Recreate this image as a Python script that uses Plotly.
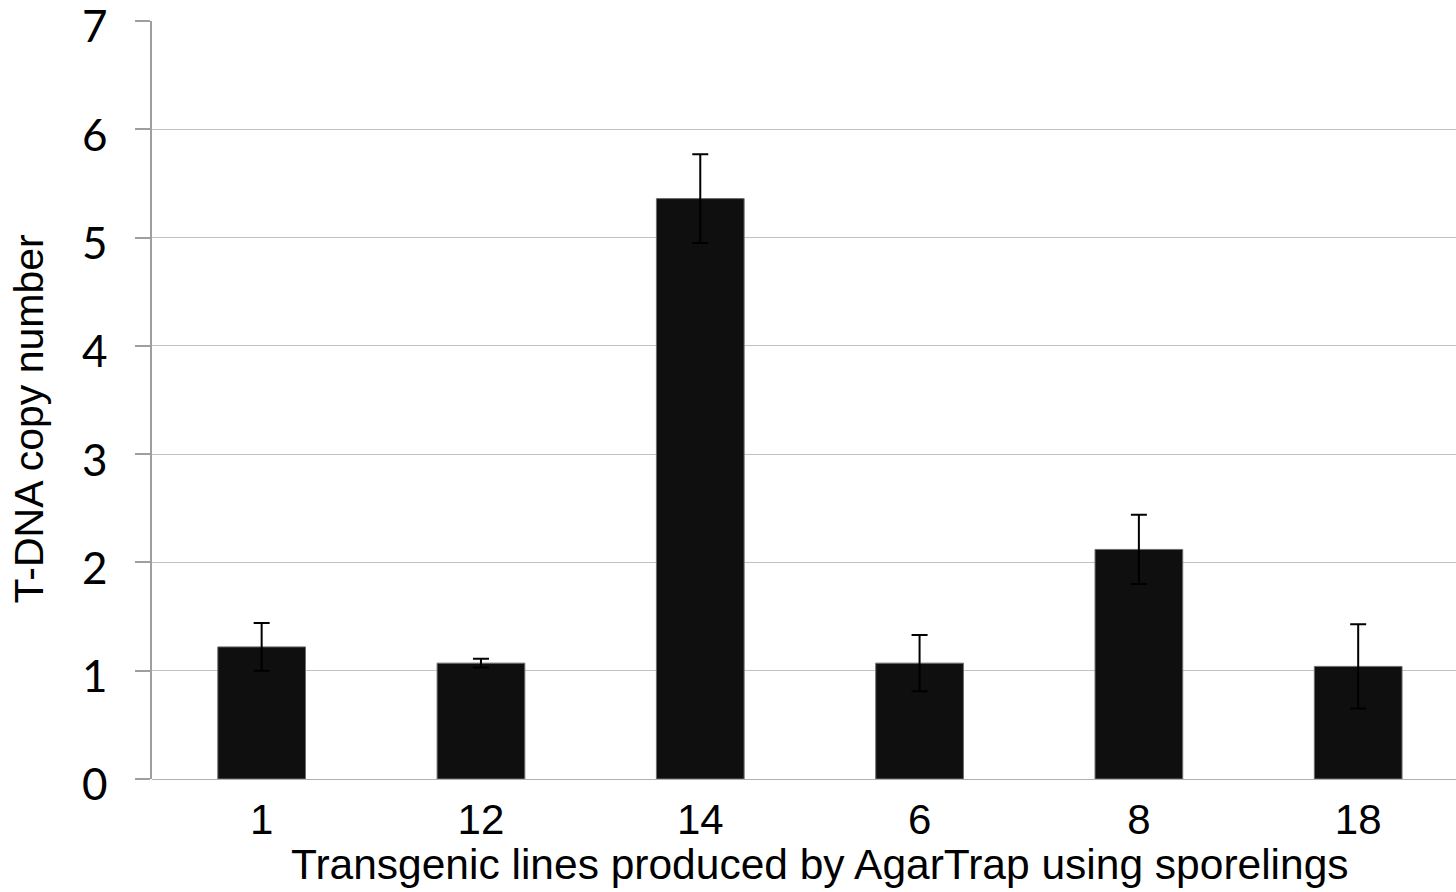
import plotly.graph_objects as go

# T-DNA copy number per transgenic line (mean ± error)
lines = ["1", "12", "14", "6", "8", "18"]
copy_number = [1.22, 1.07, 5.36, 1.07, 2.12, 1.04]
copy_error = [0.22, 0.04, 0.41, 0.26, 0.32, 0.39]
y_ticks = [0, 1, 2, 3, 4, 5, 6, 7]

fig = go.Figure(
    go.Bar(
        x=lines,
        y=copy_number,
        width=0.4,
        marker=dict(color="#0f0f0f", line=dict(color="#6e6e6e", width=1)),
        error_y=dict(type="data", array=copy_error, visible=True,
                     color="#000000", thickness=2, width=8),
    )
)

fig.update_layout(
    width=1456,
    height=892,
    margin=dict(l=152, r=0, t=21, b=113),
    paper_bgcolor="white",
    plot_bgcolor="white",
    showlegend=False,
    xaxis=dict(
        type="category",
        range=[-0.5, 5.446],
        automargin=False,
        showgrid=False,
        showline=False,
        ticks="",
        ticklabelstandoff=12,
        tickfont=dict(family="Liberation Sans, Arial", size=42, color="#000000"),
    ),
    yaxis=dict(
        range=[0, 7],
        tickvals=y_ticks,
        automargin=False,
        showgrid=True,
        gridcolor="#c2c2c2",
        gridwidth=1,
        zeroline=True,
        zerolinecolor="#b0b0b0",
        zerolinewidth=1,
        showline=True,
        linecolor="#9e9e9e",
        linewidth=1.5,
        ticks="outside",
        ticklen=15,
        tickcolor="#9e9e9e",
        tickwidth=1.5,
        ticklabelstandoff=19,
        ticklabelshift=6,
        ticklabeloverflow="allow",
        tickfont=dict(family="Lato", size=44, color="#000000"),
    ),
    annotations=[
        dict(text="T-DNA copy number", xref="paper", yref="paper",
             x=-0.0947, y=0.475, xanchor="center", yanchor="middle",
             textangle=-90, showarrow=False,
             font=dict(family="Liberation Sans, Arial", size=41, color="#000000")),
        dict(text="Transgenic lines produced by AgarTrap using sporelings",
             xref="paper", yref="paper", x=0.5124, y=-0.113,
             xanchor="center", yanchor="middle", showarrow=False,
             font=dict(family="Liberation Sans, Arial", size=42.5, color="#000000")),
    ],
)

fig.write_html("out.html")
